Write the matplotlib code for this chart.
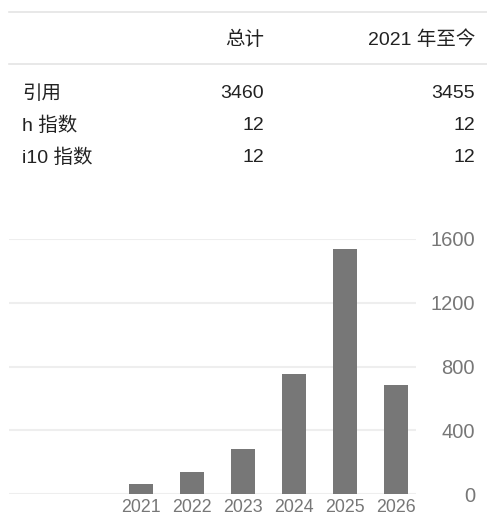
import matplotlib
matplotlib.use("Agg")
import matplotlib.pyplot as plt
from matplotlib.lines import Line2D

plt.rcParams["font.family"] = ["Liberation Sans", "Noto Sans CJK SC", "DejaVu Sans"]

# 数据
years = ["2021", "2022", "2023", "2024", "2025", "2026"]
citations = [60, 140, 280, 750, 1540, 685]
yticks = [0, 400, 800, 1200, 1600]

header = ["总计", "2021 年至今"]
row_labels = ["引用", "h 指数", "i10 指数"]
total_vals = ["3460", "12", "12"]
since_vals = ["3455", "12", "12"]

W, H = 487, 515
fig = plt.figure(figsize=(W / 100, H / 100), dpi=100)
fig.patch.set_facecolor("white")


def px(x, y):
    return x / W, 1 - y / H


TXT = "#222222"
FS = 14

# 表格线
for yy in (12, 64):
    fig.add_artist(Line2D([9 / W, 1], [1 - yy / H] * 2, color="#e4e4e4", lw=1.2))

# 表头
fig.text(*px(264, 40), header[0], ha="right", va="center", fontsize=FS, color=TXT)
fig.text(*px(475, 40), header[1], ha="right", va="center", fontsize=FS, color=TXT)

# 各行
for i, lab in enumerate(row_labels):
    y = 94 + 32 * i
    fig.text(*px(22, y), lab, ha="left", va="center", fontsize=FS, color=TXT)
    fig.text(*px(264, y), total_vals[i], ha="right", va="center", fontsize=FS, color=TXT)
    fig.text(*px(475, y), since_vals[i], ha="right", va="center", fontsize=FS, color=TXT)

# 柱状图
left, right, top, bottom = 9, 416, 239, 494
ax = fig.add_axes([left / W, 1 - bottom / H, (right - left) / W, (bottom - top) / H])
x = list(range(len(years)))
ax.bar(x, citations, width=0.47, color="#777777", zorder=2)
ax.set_xlim(-2.588, 5.392)
ax.set_ylim(0, 1600)
ax.set_yticks(yticks)
ax.set_xticks(x)
ax.set_xticklabels(years)
ax.yaxis.grid(True, color="#eeeeee", lw=1.5, zorder=0)
ax.set_axisbelow(True)
for s in ax.spines.values():
    s.set_visible(False)
ax.yaxis.tick_right()
ax.tick_params(axis="y", length=0, pad=42.5, labelsize=14.5, labelcolor="#777777")
ax.tick_params(axis="x", length=0, pad=3.5, labelsize=12.8, labelcolor="#777777")
for t in ax.get_yticklabels():
    t.set_horizontalalignment("right")

fig.savefig("out.png", dpi=100)
